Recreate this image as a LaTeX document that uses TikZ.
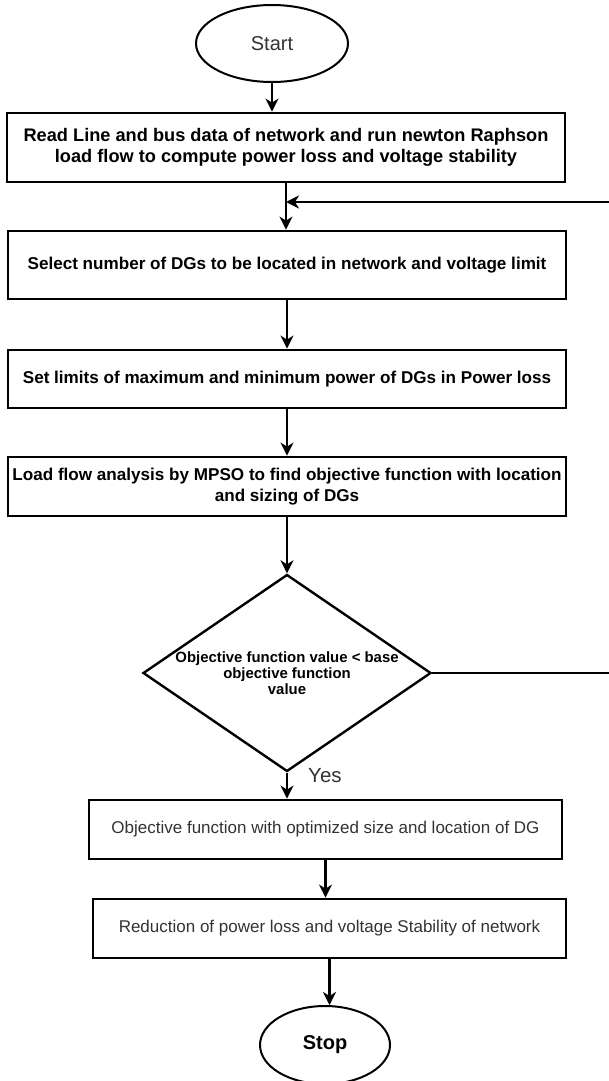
\documentclass[tikz,border=0pt]{standalone}
\usepackage{fontspec}
\setmainfont{Liberation Sans}
\usetikzlibrary{arrows.meta,shapes.geometric}

\tikzset{
  stepbox/.style={draw=black, line width=2.8pt, rectangle, inner sep=0pt,
    align=center, font=\bfseries\fontsize{17.1}{20.5}\selectfont, text=black},
  plainbox/.style={stepbox, font=\fontsize{17}{20.5}\selectfont, text=black!80},
  terminal/.style={draw=black, line width=2pt, ellipse, inner sep=0pt},
  decision/.style={draw=black, line width=2.4pt, diamond, inner sep=0pt},
  dectext/.style={align=center, inner sep=0pt, font=\bfseries\fontsize{14.9}{16}\selectfont},
  flow/.style={line width=2.2pt, -{Stealth[length=13pt, width=13pt, inset=4pt]}},
}

\begin{document}
\begin{tikzpicture}[x=1pt, y=-1pt]
  \useasboundingbox (0,0) rectangle (609,1081);
  \fill[white] (0,0) rectangle (609,1081);
  \clip (0,0) rectangle (609,1081);

  % process steps
  \node[terminal, minimum width=152pt, minimum height=77pt,
        font=\fontsize{20}{24}\selectfont, text=black!80] (start) at (272,43.5) {Start};
  \node[stepbox, minimum width=558pt, minimum height=69pt,
        font=\bfseries\fontsize{18.2}{21}\selectfont] (read) at (286,147.5)
    {Read Line and bus data of network and run newton Raphson\\load flow to compute power loss and voltage stability};
  \node[stepbox, minimum width=558pt, minimum height=68pt] (select) at (287,265)
    {Select number of DGs to be located in network and voltage limit};
  \node[stepbox, minimum width=558pt, minimum height=58pt] (limits) at (287,379)
    {Set limits of maximum and minimum power of DGs in Power loss};
  \node[stepbox, minimum width=558pt, minimum height=59pt] (mpso) at (287,486.5)
    {Load flow analysis by MPSO to find objective function with location\\and sizing of DGs};
  \node[decision, minimum width=288pt, minimum height=197pt] (dec) at (287,673) {};
  \node[dectext] (dectxt) at (dec.center)
    {Objective function value < base\\objective function\\value};
  \node[plainbox, minimum width=473pt, minimum height=59pt] (optim) at (325.5,829.5)
    {Objective function with optimized size and location of DG};
  \node[plainbox, minimum width=473pt, minimum height=59pt] (reduce) at (329.5,928.5)
    {Reduction of power loss and voltage Stability of network};
  \node[terminal, minimum width=130pt, minimum height=78pt,
        font=\bfseries\fontsize{20}{24}\selectfont] (stop) at (325,1045) {Stop};

  % branch label
  \node[anchor=west, inner sep=0pt, font=\fontsize{20.5}{24}\selectfont, text=black!80]
    (yes) at (308,776) {Yes};

  % connectors
  \draw[flow] (start.south) -- (start.south |- read.north);
  \draw[flow] (read.south) -- (read.south |- select.north);
  \draw[flow] (select.south) -- (select.south |- limits.north);
  \draw[flow] (limits.south) -- (limits.south |- mpso.north);
  \draw[flow] (mpso.south) -- (dec.north);
  \draw[flow] (dec.south) -- (dec.south |- optim.north);
  \draw[flow] (optim.south) -- (optim.south |- reduce.north);
  \draw[flow] (reduce.south) -- (reduce.south |- stop.north);

  % return path for the "no" branch
  \coordinate (fbk) at (640,202);
  \coordinate (join) at (read.south |- fbk);
  \draw[flow] (dec.east) -- (dec.east -| fbk) -- (fbk) -- (join);
\end{tikzpicture}
\end{document}
